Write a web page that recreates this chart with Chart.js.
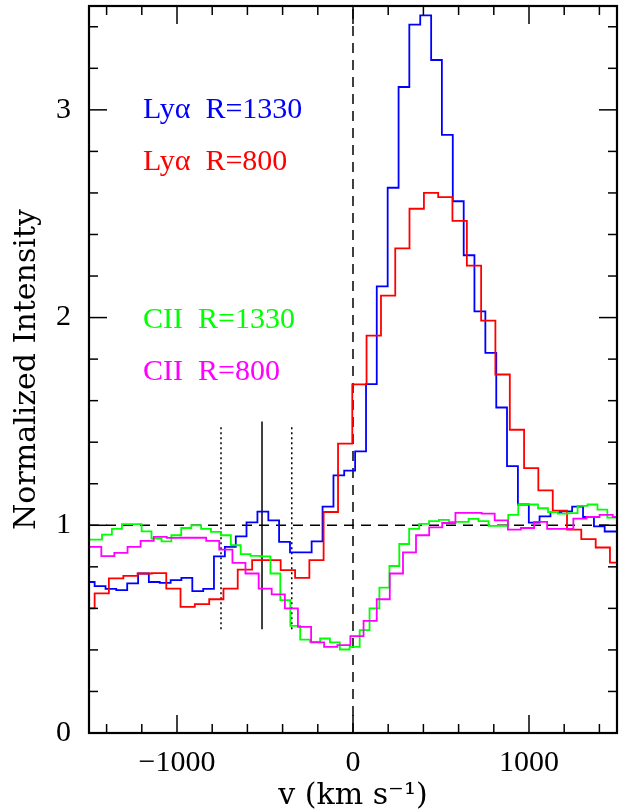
<!DOCTYPE html>
<html><head><meta charset="utf-8">
<script src="https://cdn.jsdelivr.net/npm/chart.js@4/dist/chart.umd.min.js"></script>
<style>html,body{margin:0;padding:0;background:#fff}canvas{display:block}</style>
</head><body>
<canvas id="c" width="623" height="811"></canvas>
<script>
// ---- Data: bin left edges (km/s) and normalized intensities ----
const lyaR1330Edges = [-1530,-1468,-1406,-1345,-1283,-1221,-1160,-1098,-1036,-975,-913,-851,-790,-728,-666,-605,-543,-481,-420,-358,-296,-235,-173,-111,-50,12,74,135,197,259,320,382,444,505,567,629,690,752,814,875,937,999,1060,1122,1184,1245,1307,1369,1430,1492,1554];
const lyaR1330Values = [0.727,0.707,0.694,0.688,0.72,0.768,0.727,0.723,0.736,0.747,0.683,0.694,0.85,0.896,0.947,1.014,1.066,1.024,0.92,0.87,0.87,0.923,1.09,1.24,1.263,1.356,1.68,2.15,2.625,3.11,3.41,3.455,3.24,2.88,2.56,2.30,2.03,1.83,1.567,1.285,1.10,1.013,1.043,1.064,1.067,1.09,1.04,0.995,0.97,0.97];

const lyaR800Edges = [-1549,-1468,-1387,-1305,-1224,-1143,-1061,-980,-899,-817,-736,-655,-573,-492,-411,-329,-248,-167,-85,-4,77,159,240,321,403,484,565,647,728,809,891,972,1053,1135,1216,1297,1379,1460,1541];
const lyaR800Values = [0.60,0.672,0.744,0.756,0.768,0.77,0.695,0.607,0.62,0.644,0.695,0.787,0.832,0.832,0.784,0.747,0.832,1.064,1.393,1.678,1.913,2.106,2.333,2.524,2.60,2.58,2.466,2.25,1.985,1.726,1.46,1.275,1.168,1.07,0.979,0.933,0.893,0.82];

const ciiR1330Edges = [-1539,-1482,-1426,-1370,-1313,-1257,-1201,-1145,-1088,-1032,-976,-919,-863,-807,-750,-694,-638,-582,-525,-469,-413,-356,-300,-244,-187,-131,-75,-19,38,94,150,207,263,319,376,432,488,545,601,657,713,770,826,882,939,995,1051,1108,1164,1220,1276,1333,1389,1445,1502];
const ciiR1330Values = [0.931,0.931,0.955,0.983,1.006,1.006,0.971,0.936,0.923,0.952,0.987,1.0,0.983,0.968,0.952,0.904,0.861,0.853,0.85,0.768,0.64,0.516,0.45,0.439,0.455,0.436,0.402,0.415,0.495,0.60,0.70,0.804,0.91,0.983,1.007,1.02,1.026,1.016,1.016,1.031,1.02,0.997,0.997,1.05,1.10,1.10,1.082,1.064,1.056,1.059,1.093,1.10,1.075,1.037];

const ciiR800Edges = [-1505,-1430,-1356,-1281,-1207,-1132,-1058,-983,-909,-834,-760,-685,-611,-536,-462,-387,-313,-238,-164,-89,-15,60,135,209,284,358,433,507,582,656,731,805,880,954,1029,1103,1178,1252,1327,1401,1476,1550];
const ciiR800Values = [0.896,0.852,0.867,0.896,0.925,0.944,0.939,0.94,0.94,0.925,0.883,0.819,0.768,0.695,0.667,0.60,0.511,0.436,0.415,0.423,0.466,0.54,0.644,0.768,0.87,0.952,0.99,1.011,1.06,1.06,1.056,1.024,0.979,0.987,1.016,0.983,0.983,1.032,1.04,1.05,1.04];

// reference features
const continuumLevel = 1;
const systemicVelocity = 0;
const markerSolidV = [-517];
const markerDottedV = [-750, -348];
const markerRange = [0.5, 1.5];
const markerDottedRange = [0.5, 1.48];

// axes
const xRange = [-1500, 1500];
const yRange = [0, 3.5];
const xMajorTicks = [-1000, 0, 1000];
const xMinorTicks = [-1400,-1200,-800,-600,-400,-200,200,400,600,800,1200,1400];
const yMajorTicks = [0, 1, 2, 3];
const yMinorTicks = [0.2,0.4,0.6,0.8,1.2,1.4,1.6,1.8,2.2,2.4,2.6,2.8,3.2,3.4];

// series labels (text + colour), and their anchors in data units
const seriesLabels = ['Ly\u03b1  R=1330', 'Ly\u03b1  R=800', 'CII  R=1330', 'CII  R=800'];
const seriesColors = ['#0000ff', '#ff0000', '#00ff00', '#ff00ff'];
const labelAnchorX = [-1193, -1193, -1193, -1193];
const labelAnchorY = [2.96, 2.71, 1.95, 1.70];

function steps(edges, values) {
  const pts = values.map((v, i) => ({x: edges[i], y: v}));
  pts.push({x: edges[values.length], y: values[values.length - 1]});
  return pts;
}

function lineSet(points, color, width, dash, order) {
  return {data: points, borderColor: color, borderWidth: width, borderDash: dash,
          pointRadius: 0, fill: false, tension: 0, order: order, clip: 0};
}

const datasets = [
  lineSet(steps(lyaR1330Edges, lyaR1330Values), seriesColors[0], 1.8, [], 4),
  lineSet(steps(lyaR800Edges, lyaR800Values), seriesColors[1], 1.8, [], 3),
  lineSet(steps(ciiR1330Edges, ciiR1330Values), seriesColors[2], 1.8, [], 2),
  lineSet(steps(ciiR800Edges, ciiR800Values), seriesColors[3], 1.8, [], 1),
  lineSet([{x: xRange[0], y: continuumLevel}, {x: xRange[1], y: continuumLevel}], '#000', 1.5, [10, 7], 10),
  lineSet([{x: systemicVelocity, y: yRange[0]}, {x: systemicVelocity, y: yRange[1]}], '#000', 1.5, [10, 7], 10),
  lineSet(markerSolidV.flatMap(v => [{x: v, y: markerRange[0]}, {x: v, y: markerRange[1]}]), '#000', 1.5, [], 10),
];
markerDottedV.forEach(v => datasets.push(
  lineSet([{x: v, y: markerDottedRange[0]}, {x: v, y: markerDottedRange[1]}], '#000', 1.5, [2, 3], 10)));
datasets.slice(0, 4).forEach(d => d.stepped = 'before');

const fmt = v => v < 0 ? '\u2212' + Math.abs(v) : String(v);
const tickFont = {family: '"Liberation Serif", serif', size: 30};
const titleFont = {family: '"DejaVu Serif", serif', size: 30, lineHeight: 1.0};

const framePlugin = {
  id: 'frame',
  afterDatasetsDraw(chart) {
    const {ctx, chartArea: a, scales: {x, y}} = chart;
    ctx.save();
    ctx.strokeStyle = '#000';
    ctx.lineWidth = 1.5;
    const seg = (x1, y1, x2, y2) => { ctx.beginPath(); ctx.moveTo(x1, y1); ctx.lineTo(x2, y2); ctx.stroke(); };
    const xt = (vals, len) => vals.forEach(v => { const p = x.getPixelForValue(v); seg(p, a.bottom, p, a.bottom - len); seg(p, a.top, p, a.top + len); });
    const yt = (vals, len) => vals.forEach(v => { const p = y.getPixelForValue(v); seg(a.left, p, a.left + len, p); seg(a.right, p, a.right - len, p); });
    xt(xMajorTicks, 18); xt(xMinorTicks, 9);
    yt(yMajorTicks, 18); yt(yMinorTicks, 9);
    ctx.lineWidth = 2.2;
    ctx.strokeRect(a.left, a.top, a.right - a.left, a.bottom - a.top);
    ctx.font = '30px "Liberation Serif", serif';
    ctx.textBaseline = 'alphabetic';
    ctx.textAlign = 'left';
    seriesLabels.forEach((t, i) => {
      ctx.fillStyle = seriesColors[i];
      ctx.fillText(t, x.getPixelForValue(labelAnchorX[i]), y.getPixelForValue(labelAnchorY[i]));
    });
    ctx.restore();
  }
};

new Chart(document.getElementById('c'), {
  type: 'line',
  data: {datasets},
  plugins: [framePlugin],
  options: {
    responsive: false, animation: false, devicePixelRatio: 1,
    layout: {padding: {top: 6, right: 6, left: 0, bottom: 0}},
    plugins: {legend: {display: false}, tooltip: {enabled: false}},
    scales: {
      x: {
        type: 'linear', position: 'bottom', min: xRange[0], max: xRange[1],
        grid: {display: false, drawTicks: false}, border: {display: false},
        ticks: {font: tickFont, color: '#000', padding: 12, autoSkip: false, maxRotation: 0, minRotation: 0, callback: fmt},
        afterBuildTicks: s => { s.ticks = xMajorTicks.map(v => ({value: v})); },
        afterFit: s => { s.height = 78; s.paddingLeft = 0; s.paddingRight = 0; },
        title: {display: true, text: 'v (km s\u207b\u00b9)', font: titleFont, color: '#000', padding: {top: 0, bottom: 0}}
      },
      y: {
        type: 'linear', position: 'left', min: yRange[0], max: yRange[1],
        grid: {display: false, drawTicks: false}, border: {display: false},
        ticks: {font: tickFont, color: '#000', padding: 18, autoSkip: false, callback: fmt},
        afterBuildTicks: s => { s.ticks = yMajorTicks.map(v => ({value: v})); },
        afterFit: s => { s.width = 89; s.paddingTop = 0; s.paddingBottom = 0; },
        title: {display: true, text: 'Normalized Intensity', font: titleFont, color: '#000', padding: {top: 12, bottom: 0}}
      }
    }
  }
});
</script>
</body></html>
